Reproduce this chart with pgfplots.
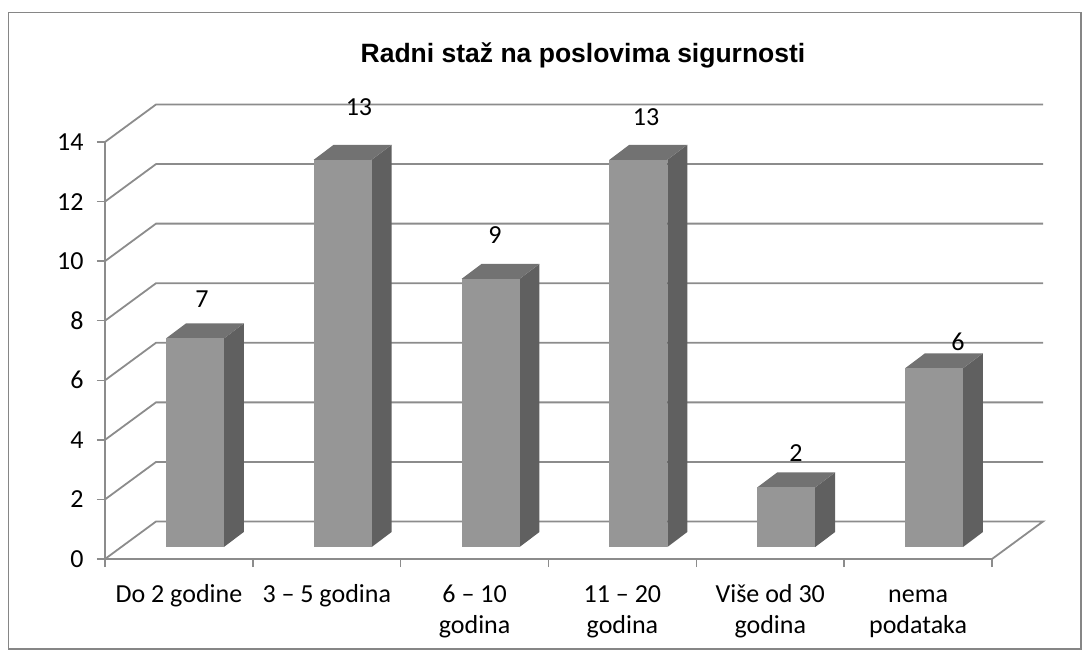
\documentclass[border=0pt]{standalone}
\usepackage{pgfplots}
\pgfplotsset{compat=1.18}
\usepackage{pgfplotstable}
\usepackage{fontspec}
\setmainfont{Carlito}
\newfontfamily\titlefont{Liberation Sans}
\definecolor{gridgray}{RGB}{140,140,140}
\definecolor{framegray}{RGB}{134,134,134}
\definecolor{frontgray}{RGB}{150,150,150}
\definecolor{sidegray}{RGB}{96,96,96}
\definecolor{topgray}{RGB}{114,114,114}
\newcommand\labfont{\fontsize{26}{31}\selectfont}

% x = category position, y = value, lx/ly = label position (axis units)
\pgfplotstableread{
x y lx ly
0 7 0.156 8.73
1 13 1.218 15.17
2 9 2.138 10.88
3 13 3.160 14.84
4 2 4.174 3.56
5 6 5.270 7.28
}\datatable

\begin{document}
\begin{tikzpicture}
\path[use as bounding box] (0pt,0pt) rectangle (1089pt,657pt);
\draw[framegray, line width=1.5pt] (8.5pt,8pt) rectangle (1081pt,644.5pt);
\node[font=\titlefont\bfseries\fontsize{26.5}{30}\selectfont, anchor=base] at (583pt,594pt) {Radni staž na poslovima sigurnosti};
\begin{axis}[
  at={(105pt,98pt)}, anchor=south west,
  scale only axis, width=887pt, height=417pt,
  xmin=-0.5, xmax=5.5, ymin=0, ymax=14,
  enlargelimits=false, clip=false,
  axis x line*=bottom, axis y line*=left,
  axis line style={draw=gridgray, line width=1.8pt},
  tick align=outside,
  major tick length=8pt, minor tick length=8pt,
  ytick={0,2,...,14},
  xtick={0,...,5},
  minor xtick={-0.5,0.5,...,5.5},
  every major x tick/.style={draw=none},
  every minor x tick/.style={draw=gridgray, line width=1.5pt},
  every major y tick/.style={draw=gridgray, line width=1.5pt},
  xticklabels={\strut Do 2 godine, \strut 3 – 5 godina, \strut 6 – 10\\godina, \strut 11 – 20\\godina, \strut Više od 30\\godina, \strut nema\\podataka},
  xticklabel style={align=center, font=\labfont, anchor=north, yshift=-10pt},
  yticklabel style={font=\labfont, xshift=-10pt},
  /pgf/number format/assume math mode=true,
]
% wall and floor gridlines
\addplot[gridgray, line width=1.8pt] coordinates {(-0.5,0) (-0.155,1.259) (5.845,1.259) (5.5,0)};
\addplot[gridgray, line width=1.8pt] coordinates {(-0.5,2) (-0.155,3.259) (5.845,3.259)};
\addplot[gridgray, line width=1.8pt] coordinates {(-0.5,4) (-0.155,5.259) (5.845,5.259)};
\addplot[gridgray, line width=1.8pt] coordinates {(-0.5,6) (-0.155,7.259) (5.845,7.259)};
\addplot[gridgray, line width=1.8pt] coordinates {(-0.5,8) (-0.155,9.259) (5.845,9.259)};
\addplot[gridgray, line width=1.8pt] coordinates {(-0.5,10) (-0.155,11.259) (5.845,11.259)};
\addplot[gridgray, line width=1.8pt] coordinates {(-0.5,12) (-0.155,13.259) (5.845,13.259)};
\addplot[gridgray, line width=1.8pt] coordinates {(-0.5,14) (-0.155,15.259) (5.845,15.259)};
% 3D bars
\pgfplotsinvokeforeach{0,...,5}{
  \pgfplotstablegetelem{#1}{y}\of\datatable
  \pgfmathsetmacro\vt{\pgfplotsretval+0.403}
  \pgfmathsetmacro\vb{0.403}
  \pgfmathsetmacro\vtt{\vt+0.504}
  \pgfmathsetmacro\vbb{0.403+0.504}
  \pgfmathsetmacro\xl{#1-0.088}
  \pgfmathsetmacro\xr{#1+0.304}
  \pgfmathsetmacro\xll{#1-0.088+0.135}
  \pgfmathsetmacro\xrr{#1+0.304+0.135}
  \edef\doplot{%
    \noexpand\addplot[fill=sidegray, draw=none] coordinates {(\xr,\vb) (\xrr,\vbb) (\xrr,\vtt) (\xr,\vt)} -- cycle;
    \noexpand\addplot[fill=topgray, draw=none] coordinates {(\xl,\vt) (\xll,\vtt) (\xrr,\vtt) (\xr,\vt)} -- cycle;
    \noexpand\addplot[fill=frontgray, draw=none] coordinates {(\xl,\vb) (\xr,\vb) (\xr,\vt) (\xl,\vt)} -- cycle;
  }\doplot
}
% value labels
\addplot[draw=none, mark=none, nodes near coords, point meta=explicit,
  nodes near coords style={anchor=center, font=\labfont, text=black}]
  table[x=lx, y=ly, meta=y] {\datatable};
\end{axis}
\end{tikzpicture}
\end{document}
